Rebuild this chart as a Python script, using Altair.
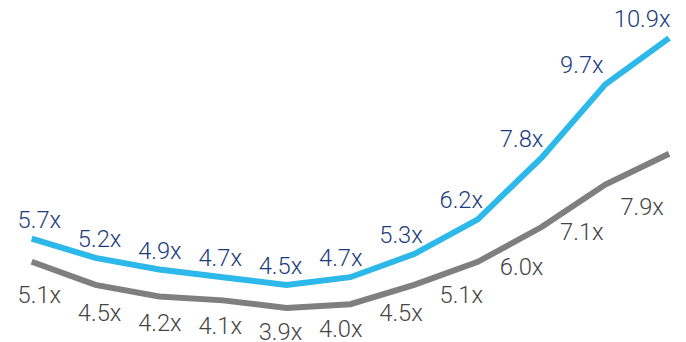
import altair as alt
import pandas as pd

# Data
periods = list(range(11))
blue_values = [5.7, 5.2, 4.9, 4.7, 4.5, 4.7, 5.3, 6.2, 7.8, 9.7, 10.9]
gray_values = [5.1, 4.5, 4.2, 4.1, 3.9, 4.0, 4.5, 5.1, 6.0, 7.1, 7.9]
blue_labels = [f"{v:.1f}x" for v in blue_values]
gray_labels = [f"{v:.1f}x" for v in gray_values]

blue = pd.DataFrame({"i": periods, "v": blue_values, "label": blue_labels})
gray = pd.DataFrame({"i": periods, "v": gray_values, "label": gray_labels})

W, H = 678, 334
FONT = "Roboto"

x_line = alt.X("i:Q", scale=alt.Scale(domain=[-0.372, 10.140], nice=False, zero=False), axis=None)
x_lab = alt.X("i:Q", scale=alt.Scale(domain=[-0.520, 10.595], nice=False, zero=False), axis=None)
y_line = alt.Y("v:Q", scale=alt.Scale(domain=[3.071, 11.628], nice=False, zero=False), axis=None)
y_glab = alt.Y("v:Q", scale=alt.Scale(domain=[3.705, 14.308], nice=False, zero=False), axis=None)

gray_line = alt.Chart(gray).mark_line(
    color="#7f7f7f", strokeWidth=6, strokeJoin="miter", strokeCap="butt"
).encode(x=x_line, y=y_line)

blue_line = alt.Chart(blue).mark_line(
    color="#2cb8e8", strokeWidth=6, strokeJoin="miter", strokeCap="butt"
).encode(x=x_line, y=y_line)

blue_text = alt.Chart(blue).mark_text(
    font=FONT, fontSize=24, fontWeight=300, color="#1b3c7c",
    align="center", baseline="middle", dy=-18
).encode(x=x_lab, y=y_line, text="label:N")

gray_text = alt.Chart(gray).mark_text(
    font=FONT, fontSize=24, fontWeight=300, color="#444444",
    align="center", baseline="middle", dy=-1
).encode(x=x_lab, y=y_glab, text="label:N")

chart = alt.layer(gray_line, blue_line, blue_text, gray_text).resolve_scale(
    x="independent", y="independent"
).properties(
    width=W, height=H, padding=0, autosize=alt.AutoSizeParams(type="none"), background="white"
).configure_view(stroke=None)

chart.save("out.html", embed_options={"renderer": "svg", "actions": False})
